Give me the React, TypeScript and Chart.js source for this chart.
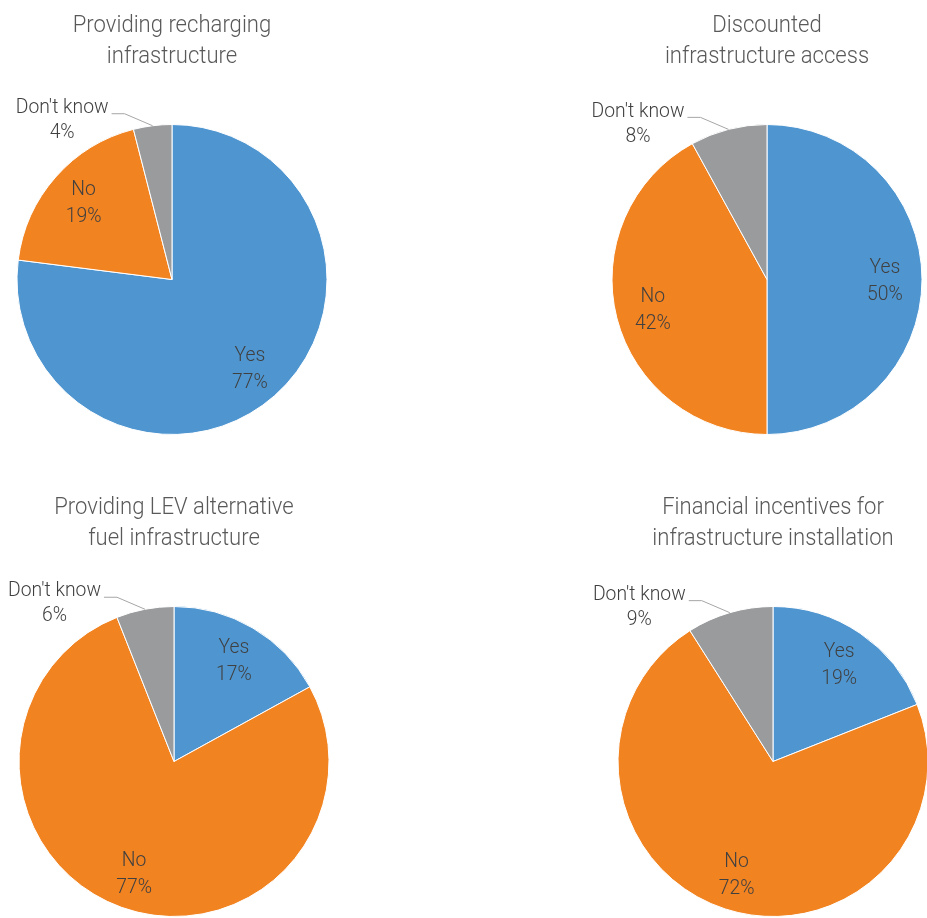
import React, { useEffect, useRef } from "react";
import { Chart, registerables } from "chart.js";

Chart.register(...registerables);

const CATEGORIES = ["Yes", "No", "Don't know"];
const COLORS = ["#4F96D1", "#F28321", "#999B9D"];

const TITLE_RECHARGING = ["Providing recharging", "infrastructure"];
const TITLE_DISCOUNTED = ["Discounted", "infrastructure access"];
const TITLE_LEV = ["Providing LEV alternative", "fuel infrastructure"];
const TITLE_FINANCIAL = ["Financial incentives for", "infrastructure installation"];

const VALUES_RECHARGING = [77, 19, 4];
const VALUES_DISCOUNTED = [50, 42, 8];
const VALUES_LEV = [17, 77, 6];
const VALUES_FINANCIAL = [19, 72, 9];

const FONT = "Roboto, 'Liberation Sans', sans-serif";
const SCALE_X = 0.92;

function drawText(ctx: CanvasRenderingContext2D, text: string, x: number, y: number, size: number, color: string) {
  ctx.save();
  ctx.font = `300 ${size}px ${FONT}`;
  ctx.fillStyle = color;
  ctx.textAlign = "center";
  ctx.textBaseline = "middle";
  ctx.translate(x, y);
  ctx.scale(SCALE_X, 1);
  ctx.fillText(text, 0, 0);
  ctx.restore();
}

function textWidth(ctx: CanvasRenderingContext2D, text: string, size: number) {
  ctx.save();
  ctx.font = `300 ${size}px ${FONT}`;
  const w = ctx.measureText(text).width * SCALE_X;
  ctx.restore();
  return w;
}

const labelPlugin = {
  id: "pieLabels",
  afterDraw(chart: any) {
    const ctx: CanvasRenderingContext2D = chart.ctx;
    const area = chart.chartArea;
    const cx = (area.left + area.right) / 2;
    const title: string[] = chart.options.plugins.pieTitle.lines;
    drawText(ctx, title[0], cx, area.top - 98, 24, "#595959");
    drawText(ctx, title[1], cx, area.top - 67, 24, "#595959");

    const meta = chart.getDatasetMeta(0);
    const data = chart.data.datasets[0].data as number[];
    const labels = chart.data.labels as string[];
    meta.data.forEach((arc: any, i: number) => {
      const p = arc.getProps(["x", "y", "startAngle", "endAngle", "outerRadius"], true);
      const mid = (p.startAngle + p.endAngle) / 2;
      const name = labels[i];
      const pct = `${data[i]}%`;
      if (i < 2) {
        const r = p.outerRadius * 0.76;
        const lx = p.x + Math.cos(mid) * r;
        const ly = p.y + Math.sin(mid) * r;
        drawText(ctx, name, lx, ly - 12, 21, "#404040");
        drawText(ctx, pct, lx, ly + 15, 21, "#404040");
      } else {
        const ex = p.x + Math.cos(mid) * p.outerRadius;
        const ey = p.y + Math.sin(mid) * p.outerRadius;
        const elx = ex - 28;
        const ely = ey - 12;
        const endX = elx - 13;
        ctx.save();
        ctx.strokeStyle = "#A6A6A6";
        ctx.lineWidth = 1;
        ctx.beginPath();
        ctx.moveTo(ex, ey);
        ctx.lineTo(elx, ely);
        ctx.lineTo(endX, ely);
        ctx.stroke();
        ctx.restore();
        const w = textWidth(ctx, name, 21);
        const tx = endX - 3 - w / 2;
        drawText(ctx, name, tx, ely - 6, 21, "#404040");
        drawText(ctx, pct, tx, ely + 19, 21, "#404040");
      }
    });
  },
};

function PiePanel({ title, values, left, top }: { title: string[]; values: number[]; left: number; top: number }) {
  const ref = useRef<HTMLCanvasElement>(null);
  useEffect(() => {
    if (!ref.current) return;
    const chart = new Chart(ref.current, {
      type: "pie",
      data: {
        labels: CATEGORIES,
        datasets: [
          {
            data: values,
            backgroundColor: COLORS,
            borderColor: "#FFFFFF",
            borderWidth: 1,
          },
        ],
      },
      options: {
        animation: false,
        responsive: false,
        maintainAspectRatio: false,
        layout: { padding: { left: 79.5, right: 79.5, top: 134, bottom: 15 } },
        plugins: {
          legend: { display: false },
          tooltip: { enabled: false },
          title: { display: false },
          pieTitle: { lines: title },
        } as any,
      },
      plugins: [labelPlugin],
    });
    return () => chart.destroy();
  }, []);
  return (
    <canvas
      ref={ref}
      width={470}
      height={460}
      style={{ position: "absolute", left, top, width: 470, height: 460 }}
    />
  );
}

export default function App() {
  return (
    <div
      style={{
        position: "absolute",
        left: 0,
        top: 0,
        width: 927,
        height: 918,
        overflow: "hidden",
        background: "#FFFFFF",
      }}
    >
      <PiePanel title={TITLE_RECHARGING} values={VALUES_RECHARGING} left={171.5 - 235} top={280 - 290} />
      <PiePanel title={TITLE_DISCOUNTED} values={VALUES_DISCOUNTED} left={767 - 235} top={280 - 290} />
      <PiePanel title={TITLE_LEV} values={VALUES_LEV} left={174 - 235} top={762 - 290} />
      <PiePanel title={TITLE_FINANCIAL} values={VALUES_FINANCIAL} left={773 - 235} top={762 - 290} />
    </div>
  );
}
